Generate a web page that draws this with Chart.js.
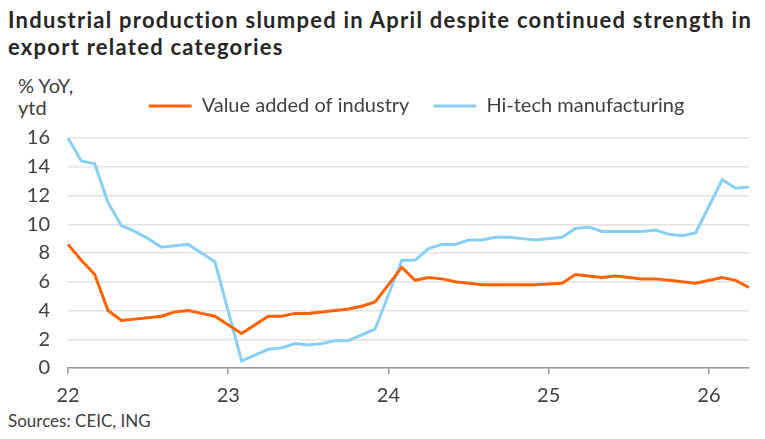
<!DOCTYPE html>
<html>
<head>
<meta charset="utf-8">
<script src="https://cdn.jsdelivr.net/npm/chart.js@4.4.1/dist/chart.umd.min.js"></script>
<style>
  html, body { margin: 0; padding: 0; background: #fff; }
  body { width: 765px; height: 439px; position: relative; overflow: hidden; font-family: Lato, sans-serif; }
  #title { position: absolute; left: 8px; top: 6px; font-size: 22px; font-weight: bold; letter-spacing: 1.25px; line-height: 27px; color: #262626; white-space: nowrap; }
  #unit { position: absolute; left: 18px; top: 74px; font-size: 20px; line-height: 22px; color: #404040; }
  #source { position: absolute; left: 8px; top: 410px; font-size: 17px; color: #404040; }
  #wrap { position: absolute; left: 0; top: 0; width: 765px; height: 439px; }
</style>
</head>
<body>
<div id="title">Industrial production slumped in April despite continued strength in<br>export related categories</div>
<div id="unit">% YoY,<br>ytd</div>
<div id="source">Sources: CEIC, ING</div>
<div id="wrap"><canvas id="chart"></canvas></div>
<script>
// monthly, ytd (Jan figures not published -> null, line bridges the gap)
var months = [
  '2022-01','2022-02','2022-03','2022-04','2022-05','2022-06','2022-07','2022-08','2022-09','2022-10','2022-11','2022-12',
  '2023-01','2023-02','2023-03','2023-04','2023-05','2023-06','2023-07','2023-08','2023-09','2023-10','2023-11','2023-12',
  '2024-01','2024-02','2024-03','2024-04','2024-05','2024-06','2024-07','2024-08','2024-09','2024-10','2024-11','2024-12',
  '2025-01','2025-02','2025-03','2025-04','2025-05','2025-06','2025-07','2025-08','2025-09','2025-10','2025-11','2025-12',
  '2026-01','2026-02','2026-03','2026-04'
];
var yearTicks = ['22', '23', '24', '25', '26'];

var valueAdded = [
  8.6, 7.5, 6.5, 4.0, 3.3, 3.4, 3.5, 3.6, 3.9, 4.0, 3.8, 3.6,
  null, 2.4, 3.0, 3.6, 3.6, 3.8, 3.8, 3.9, 4.0, 4.1, 4.3, 4.6,
  null, 7.0, 6.1, 6.3, 6.2, 6.0, 5.9, 5.8, 5.8, 5.8, 5.8, 5.8,
  null, 5.9, 6.5, 6.4, 6.3, 6.4, 6.3, 6.2, 6.2, 6.1, 6.0, 5.9,
  null, 6.3, 6.1, 5.6
];
var hiTech = [
  16.0, 14.4, 14.2, 11.5, 9.9, 9.5, 9.0, 8.4, 8.5, 8.6, 8.0, 7.4,
  null, 0.5, 0.9, 1.3, 1.4, 1.7, 1.6, 1.7, 1.9, 1.9, 2.3, 2.7,
  null, 7.5, 7.5, 8.3, 8.6, 8.6, 8.9, 8.9, 9.1, 9.1, 9.0, 8.9,
  null, 9.1, 9.7, 9.8, 9.5, 9.5, 9.5, 9.5, 9.6, 9.3, 9.2, 9.4,
  null, 13.1, 12.5, 12.6
];

var orange = '#FF6200';
var blue = '#87D0F5';
var textColor = '#404040';

// extra room under the legend, and nudge it a little right of the plot centre
var legendTweak = {
  id: 'legendTweak',
  beforeInit: function (chart) {
    var fit = chart.legend.fit;
    chart.legend.fit = function () {
      fit.call(this);
      this.height += 12;
    };
  },
  afterLayout: function (chart) {
    chart.legend.left += 8;
    chart.legend.right += 8;
  }
};

var ctx = document.getElementById('chart').getContext('2d');

new Chart(ctx, {
  type: 'line',
  data: {
    labels: months,
    datasets: [
      {
        label: 'Value added of industry',
        data: valueAdded,
        borderColor: orange,
        backgroundColor: orange,
        borderWidth: 3,
        pointRadius: 0,
        spanGaps: true,
        tension: 0
      },
      {
        label: 'Hi-tech manufacturing',
        data: hiTech,
        borderColor: blue,
        backgroundColor: blue,
        borderWidth: 3,
        pointRadius: 0,
        spanGaps: true,
        tension: 0
      }
    ]
  },
  options: {
    responsive: true,
    maintainAspectRatio: false,
    animation: false,
    layout: {
      padding: { left: 0, right: 16, top: 72, bottom: 31 }
    },
    scales: {
      x: {
        offset: false,
        grid: {
          drawOnChartArea: false,
          tickLength: 6,
          lineWidth: 1.5,
          color: function (c) { return c.index % 12 === 0 ? '#999' : 'transparent'; }
        },
        border: { color: '#999', width: 1.5 },
        ticks: {
          autoSkip: false,
          maxRotation: 0,
          padding: 10,
          color: textColor,
          font: { family: 'Lato', size: 20 },
          callback: function (val, index) {
            return index % 12 === 0 ? yearTicks[index / 12] : '';
          }
        },
        afterFit: function (scale) { scale.height = 40; }
      },
      y: {
        min: 0,
        max: 16,
        grid: {
          color: '#e2e2e2',
          lineWidth: 1.5,
          drawTicks: false
        },
        border: { display: false },
        ticks: {
          stepSize: 2,
          padding: 18,
          color: textColor,
          font: { family: 'Lato', size: 20 }
        },
        afterFit: function (scale) { scale.width = 68; }
      }
    },
    plugins: {
      legend: {
        position: 'top',
        fullSize: false,
        labels: {
          color: textColor,
          font: { family: 'Lato', size: 20 },
          boxWidth: 43,
          boxHeight: 3,
          padding: 24,
          generateLabels: function (chart) {
            return Chart.defaults.plugins.legend.labels.generateLabels(chart).map(function (item) {
              item.lineWidth = 0;
              item.fillStyle = item.strokeStyle;
              return item;
            });
          }
        }
      },
      tooltip: { enabled: false }
    }
  },
  plugins: [legendTweak]
});
</script>
</body>
</html>
